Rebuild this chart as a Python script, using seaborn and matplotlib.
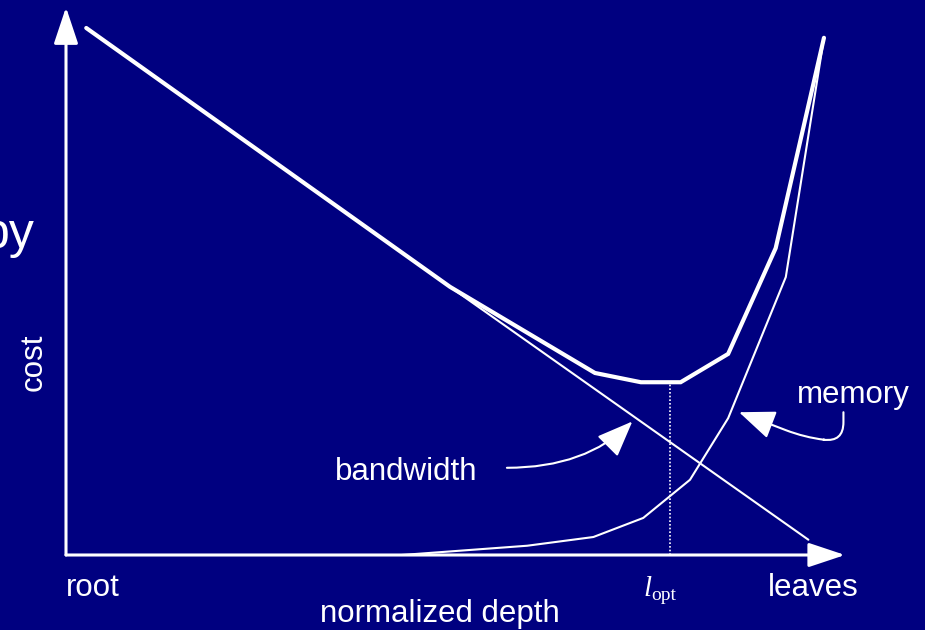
import matplotlib
matplotlib.use("Agg")
import matplotlib.pyplot as plt
import seaborn as sns
import pandas as pd

NAVY = "#000080"

# normalized depth (0 = root, 10 = leaves) vs cost
bw_depth = [0.26, 4.93, 9.53]
bw_cost = [9.67, 4.92, 0.28]

mem_depth = [4.31, 5.92, 6.77, 7.41, 8.01, 8.50, 9.24, 9.73]
mem_cost = [0.0, 0.17, 0.33, 0.68, 1.38, 2.51, 5.10, 9.49]

tot_depth = [0.26, 4.93, 6.79, 7.38, 7.89, 8.50, 9.11, 9.73]
tot_cost = [9.67, 4.92, 3.34, 3.17, 3.17, 3.69, 5.63, 9.49]

l_opt = 7.75
l_opt_cost = 3.17

bw = pd.DataFrame({"depth": bw_depth, "cost": bw_cost})
mem = pd.DataFrame({"depth": mem_depth, "cost": mem_cost})
tot = pd.DataFrame({"depth": tot_depth, "cost": tot_cost})

sns.set_theme(style="white", rc={"axes.facecolor": NAVY, "figure.facecolor": NAVY})
plt.rcParams["font.family"] = ["Liberation Sans", "DejaVu Sans"]

fig = plt.figure(figsize=(9.25, 6.3), dpi=100)
ax = fig.add_axes([66 / 925, 75 / 630, 779 / 925, 545 / 630])
ax.set_xlim(0, 10)
ax.set_ylim(0, 10)
for s in ax.spines.values():
    s.set_visible(False)
ax.set_xticks([])
ax.set_yticks([])

# the curves
sns.lineplot(data=bw, x="depth", y="cost", sort=False, estimator=None,
             color="white", lw=1.5, ax=ax, clip_on=False)
sns.lineplot(data=mem, x="depth", y="cost", sort=False, estimator=None,
             color="white", lw=1.5, ax=ax, clip_on=False)
sns.lineplot(data=tot, x="depth", y="cost", sort=False, estimator=None,
             color="white", lw=3, ax=ax, clip_on=False, solid_joinstyle="miter")
ax.plot([l_opt, l_opt], [0, l_opt_cost], color="white", lw=1.2,
        ls=(0, (1, 1.2)))
ax.set_xlabel("")
ax.set_ylabel("")

# axis arrows
axis_arrow = dict(arrowstyle="-|>,head_length=1.5,head_width=0.5", color="white",
                  lw=2.2, mutation_scale=15, shrinkA=0, shrinkB=0)
ax.annotate("", xy=(10.0, 0), xytext=(0, 0), arrowprops=axis_arrow,
            annotation_clip=False)
ax.annotate("", xy=(0, 10.05), xytext=(0, 0), arrowprops=axis_arrow,
            annotation_clip=False)

# label arrows
ax.annotate("", xy=(7.27, 2.45), xytext=(5.66, 1.60),
            arrowprops=dict(arrowstyle="-|>,head_length=1.5,head_width=0.6",
                            color="white", lw=1.5, mutation_scale=15,
                            shrinkA=0, shrinkB=0,
                            connectionstyle="angle3,angleA=0,angleB=-135"),
            annotation_clip=False)
ax.annotate("", xy=(8.64, 2.62), xytext=(9.98, 2.62),
            arrowprops=dict(arrowstyle="-|>,head_length=1.5,head_width=0.6",
                            color="white", lw=1.5, mutation_scale=15,
                            shrinkA=0, shrinkB=0,
                            connectionstyle="arc,angleA=-90,armA=30,angleB=-21,armB=70,rad=20"),
            annotation_clip=False)

txt = dict(color="white", fontsize=22.5, clip_on=False)
ax.text(0, -0.75, "root", ha="left", va="baseline", **txt)
ax.text(9.01, -0.75, "leaves", ha="left", va="baseline", **txt)
ax.text(4.80, -1.23, "normalized depth", ha="center", va="baseline", **txt)
ax.text(-0.42, 3.54, "cost", ha="center", va="center", rotation=90, **txt)
ax.text(3.45, 1.38, "bandwidth", ha="left", va="baseline", **txt)
ax.text(9.38, 2.79, "memory", ha="left", va="baseline", **txt)
ax.text(-0.40, 5.87, "py", ha="right", va="center", color="white",
        fontsize=36, clip_on=False)

ax.text(7.41, -0.75, "l", ha="left", va="baseline", color="white",
        fontsize=21, family="Liberation Serif", style="italic", clip_on=False)
ax.text(7.51, -0.83, "opt", ha="left", va="baseline", color="white",
        fontsize=14, family="Liberation Serif", clip_on=False)

fig.savefig("out.png", dpi=100, facecolor=NAVY)
